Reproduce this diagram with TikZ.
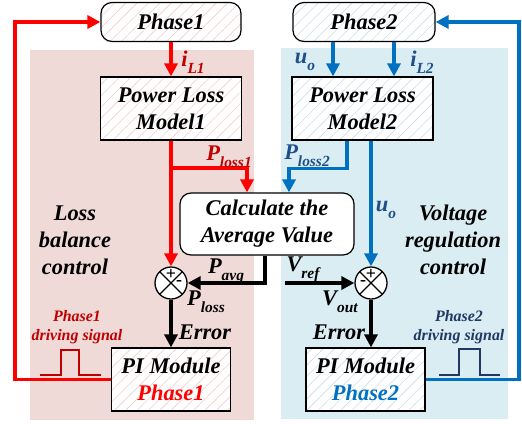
\documentclass[tikz,border=0pt]{standalone}
\usepackage{fontspec}
\setmainfont{Liberation Serif}
\usetikzlibrary{arrows.meta,patterns.meta}
\definecolor{myred}{HTML}{FF0000}
\definecolor{dred}{HTML}{C00000}
\definecolor{myblue}{HTML}{0070C0}
\definecolor{dblue}{HTML}{1F4E8C}
\definecolor{navy}{HTML}{1F3864}
\definecolor{pinkbg}{HTML}{F0DAD8}
\definecolor{bluebg}{HTML}{DAEDF3}
\definecolor{hatchr}{HTML}{F3CDCD}
\definecolor{hatchb}{HTML}{C9DDEA}
\newcommand{\lsb}[1]{\raisebox{-0.3em}{\fontsize{15.5}{15.5}\selectfont #1}}
\tikzset{
  txt/.style={font=\bfseries\itshape\fontsize{22.5}{27}\selectfont, align=center, inner sep=0},
  small/.style={font=\bfseries\itshape\fontsize{16}{19}\selectfont, align=center, inner sep=0},
  hatchR/.style={preaction={fill=white}, preaction={pattern={Lines[angle=45,distance=8bp,line width=0.6bp]}, pattern color=hatchr}},
  hatchB/.style={preaction={fill=white}, preaction={pattern={Lines[angle=45,distance=8bp,line width=0.6bp]}, pattern color=hatchb}},
  box/.style={txt, draw=black, line width=1.2bp},
  rbox/.style={box, rounded corners=11bp},
  sumc/.style={circle, draw=black, line width=1.3bp, fill=white, minimum size=32bp, inner sep=0,
    path picture={\draw[line width=1.2bp] (path picture bounding box.south west) -- (path picture bounding box.north east) (path picture bounding box.north west) -- (path picture bounding box.south east);}},
  tip/.style={-{Triangle[length=13bp,width=13bp]}},
  redl/.style={draw=myred, line width=3.3bp},
  bluel/.style={draw=myblue, line width=3.3bp},
  blackl/.style={draw=black, line width=3.3bp},
  sign/.style={font=\bfseries\fontsize{18}{18}\selectfont, inner sep=0},
}
\begin{document}
\begin{tikzpicture}[x=1bp,y=-1bp]
\useasboundingbox (0,0) rectangle (522,423);
\fill[pinkbg] (30,50) rectangle (254,420);
\fill[bluebg] (281,48) rectangle (508,419);

% nodes
\node[rbox, hatchR, minimum width=140bp, minimum height=39bp] (ph1) at (171,22) {Phase1};
\node[rbox, hatchB, minimum width=142bp, minimum height=39bp] (ph2) at (364,22) {Phase2};
\node[box, hatchR, minimum width=141bp, minimum height=63bp] (plm1) at (171,108.5) {Power Loss\\Model1};
\node[box, hatchB, minimum width=141bp, minimum height=63bp] (plm2) at (362.5,108.5) {Power Loss\\Model2};
\node[rbox, fill=white, minimum width=174bp, minimum height=62bp] (calc) at (267,224) {Calculate the\\Average Value};
\node[sumc] (s1) at (171,283) {};
\node[sumc] (s2) at (371,283) {};
\node[box, hatchR, minimum width=119bp, minimum height=63bp] (pi1) at (171,379.5) {PI Module\\\textcolor{myred}{Phase1}};
\node[box, hatchB, minimum width=119bp, minimum height=63bp] (pi2) at (365.5,379.5) {PI Module\\\textcolor{myblue}{Phase2}};

% signs
\node[sign] (p1) at ([yshift=8.5bp]s1.center) {+};
\node[sign] (m1) at ([xshift=8bp,yshift=0bp]s1.center) {-};
\node[sign] (p2) at ([yshift=8.5bp]s2.center) {+};
\node[sign] (m2) at ([xshift=-8bp,yshift=0bp]s2.center) {-};

% coordinates
\coordinate (L) at (15,0);
\coordinate (R) at (519,0);
\coordinate (B1) at (171,168);
\coordinate (V) at (285,283);

% red connectors
\draw[redl, tip] (pi1.west) -- (pi1.west -| L) -- (ph1.west -| L) -- (ph1.west);
\draw[redl, tip] (ph1.south) -- (plm1.north);
\draw[redl, tip] (plm1.south) -- (s1.north);
\draw[redl, tip] (B1) -| ([xshift=-20bp]calc.north);

% blue connectors
\draw[bluel, tip] (pi2.east) -- (pi2.east -| R) -- (ph2.east -| R) -- (ph2.east);
\draw[bluel, tip] ([xshift=-31bp]ph2.south) -- ([xshift=-31bp]ph2.south |- plm2.north);
\draw[bluel, tip] ([xshift=30bp]ph2.south) -- ([xshift=30bp]ph2.south |- plm2.north);
\draw[bluel, tip] ([xshift=-15.5bp]plm2.south) -- ++(0,28) -| ([xshift=22bp]calc.north);
\draw[bluel, tip] (plm2.south -| s2) -- (s2.north);

% black connectors
\draw[blackl, tip] ([xshift=-2bp]calc.south) |- (s1.east);
\draw[blackl, tip] (V) -- (s2.west);
\draw[blackl, tip] (s1.south) -- (pi1.north);
\draw[blackl, tip] (s2.south) -- (s2.south |- pi2.north);

% labels
\node[txt, text=dred] (liL1) at (193,62) {i\lsb{L1}};
\node[txt, text=dred] (lpl1) at (229,157) {P\lsb{loss1}};
\node[txt, text=dblue] (luo1) at (305,62) {u\lsb{o}};
\node[txt, text=dblue] (liL2) at (422,62) {i\lsb{L2}};
\node[txt, text=dblue] (lpl2) at (307,156) {P\lsb{loss2}};
\node[txt, text=dblue] (luo2) at (386,210) {u\lsb{o}};
\node[txt] (lpavg) at (226,271) {P\lsb{avg}};
\node[txt] (lvref) at (303,269) {V\lsb{ref}};
\node[txt] (lploss) at (206,302) {P\lsb{loss}};
\node[txt] (lerr1) at (205,332) {Error};
\node[txt] (lvout) at (340,302) {V\lsb{out}};
\node[txt] (lerr2) at (339,332) {Error};
\node[txt] (lbal) at (75,240) {Loss\\balance\\control};
\node[txt] (lvol) at (453,240) {Voltage\\regulation\\control};
\node[small, text=dred] (ds1) at (77,327) {Phase1\\driving signal};
\node[small, text=navy] (ds2) at (459,327) {Phase2\\driving signal};

% pulses
\draw[dred, line width=2.8bp] (40,375) -- (61,375) -- (61,350) -- (79,350) -- (79,375) -- (101,375);
\draw[navy, line width=2.8bp] (439,375) -- (459,375) -- (459,349) -- (480,349) -- (480,375) -- (500,375);
\end{tikzpicture}
\end{document}
